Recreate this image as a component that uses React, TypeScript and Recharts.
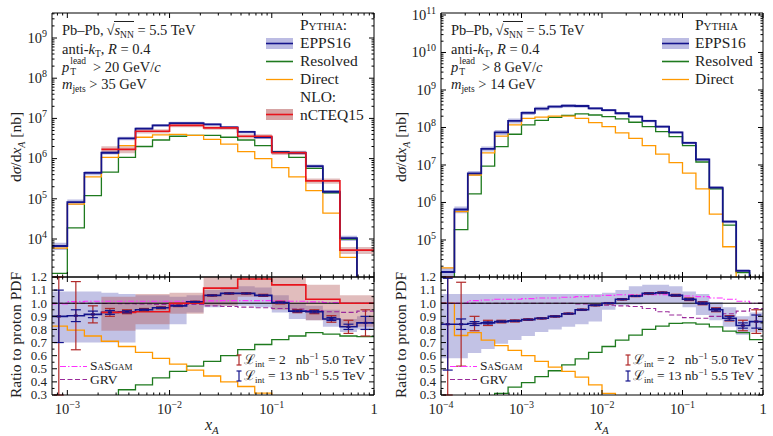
import React from 'react';
import { ComposedChart, Line, Area, Scatter, ErrorBar, XAxis, YAxis, ReferenceLine } from 'recharts';

const FONT = '"Liberation Serif", "DejaVu Serif", serif';

// bin edges (6 per decade for PYTHIA, 3 per decade for NLO)
const leftEdges = [6.81e-4, 1e-3, 1.468e-3, 2.154e-3, 3.162e-3, 4.642e-3, 6.813e-3, 1e-2, 1.468e-2, 2.154e-2, 3.162e-2, 4.642e-2, 6.813e-2, 0.1, 0.1468, 0.2154, 0.3162, 0.4642, 0.6813, 1];
const rightEdges = [1e-4, 1.468e-4, 2.154e-4, 3.162e-4, 4.642e-4, 6.813e-4, 1e-3, 1.468e-3, 2.154e-3, 3.162e-3, 4.642e-3, 6.813e-3, 1e-2, 1.468e-2, 2.154e-2, 3.162e-2, 4.642e-2, 6.813e-2, 0.1, 0.1468, 0.2154, 0.3162, 0.4642, 0.6813, 1];
const nloEdges = [2.154e-3, 4.642e-3, 1e-2, 2.154e-2, 4.642e-2, 0.1, 0.2154, 0.4642, 1];

// left panel, cross sections [nb]
const leftEpps = [6.7e3, 8.3e4, 4.4e5, 1.4e6, 3.2e6, 5.6e6, 6.7e6, 7.6e6, 7.6e6, 7.1e6, 6.0e6, 4.6e6, 3.4e6, 1.45e6, 1.4e6, 6.5e5, 1.5e5, 1.05e4, 0];
const leftEppsUnc = [0.2, 0.15, 0.12, 0.1, 0.1, 0.08, 0.08, 0.08, 0.08, 0.08, 0.08, 0.08, 0.08, 0.08, 0.08, 0.1, 0.1, 0.15, 0];
const leftResolved = [1.4e3, 1.9e4, 1.2e5, 4.6e5, 1.07e6, 2.0e6, 2.9e6, 3.6e6, 3.8e6, 3.8e6, 3.4e6, 2.9e6, 2.1e6, 1.5e6, 1.07e6, 5.7e5, 1.4e5, 1.0e4, 0];
const leftDirect = [5.9e3, 7.4e4, 3.5e5, 1.07e6, 2.1e6, 3.4e6, 3.9e6, 4.0e6, 3.8e6, 3.0e6, 2.3e6, 1.5e6, 1.0e6, 6.0e5, 3.5e5, 1.6e5, 4.4e4, 3.5e3, 0];
const leftNlo = [1.7e6, 4.8e6, 6.7e6, 5.8e6, 3.6e6, 1.4e6, 2.8e5, 5.3e3];
const leftNloUnc = [0.2, 0.12, 0.1, 0.1, 0.12, 0.12, 0.15, 0.2];

// left panel, ratios
const leftRatioEpps = [0.9, 0.905, 0.915, 0.93, 0.935, 0.95, 0.965, 0.98, 1.01, 1.06, 1.075, 1.075, 1.06, 1.005, 0.94, 0.935, 0.88, 0.82, 0.85];
const leftRatioEppsLo = [0.7, 0.7, 0.7, 0.7, 0.7, 0.8, 0.8, 0.84, 0.93, 0.97, 0.98, 0.98, 0.97, 0.93, 0.88, 0.87, 0.82, 0.78, 0.8];
const leftRatioEppsHi = [1.09, 1.09, 1.09, 1.08, 1.07, 1.06, 1.06, 1.05, 1.06, 1.1, 1.12, 1.13, 1.12, 1.06, 1.0, 0.98, 0.95, 0.88, 0.9];
const leftRatioNlo = [0.93, 0.935, 1.0, 1.115, 1.185, 1.14, 1.03, 1.0];
const leftRatioNloLo = [0.79, 0.84, 0.92, 0.98, 1.05, 0.95, 0.87, 0.82];
const leftRatioNloHi = [1.05, 1.07, 1.08, 1.22, 1.25, 1.2, 1.14, 1.06];
const leftRatioResolved = [null, null, null, 0.25, 0.34, 0.377, 0.43, 0.48, 0.52, 0.556, 0.6, 0.646, 0.685, 0.723, 0.75, 0.775, 0.765, 0.75, 0.745];
const leftRatioDirect = [0.825, 0.795, 0.75, 0.71, 0.67, 0.625, 0.58, 0.535, 0.49, 0.445, 0.4, 0.365, 0.315, 0.25, null, null, null, null, null];
const leftSasgam = [0.995, 1.012, 1.015, 1.015, 1.015, 1.015, 1.015, 1.015, 1.015, 1.018, 1.02, 1.02, 1.02, 1.018, 1.015, 1.01, 1.005, 1.0, 1.0];
const leftGrv = [1.0, 1.0, 1.0, 0.998, 0.996, 0.994, 0.99, 0.99, 0.99, 0.98, 0.975, 0.97, 0.965, 0.96, 0.955, 0.945, 0.935, 0.93, 0.94];
const leftErr50 = [1.0, 0.26, 0.065, 0.03, 0.015, 0.01, 0.008, 0.006, 0.006, 0.006, 0.006, 0.006, 0.008, 0.01, 0.012, 0.015, 0.025, 0.05, 0.1];
const leftErr55 = [0.2, 0.045, 0.025, 0.015, 0.008, 0.005, 0.004, 0.003, 0.003, 0.003, 0.003, 0.003, 0.004, 0.005, 0.006, 0.008, 0.012, 0.02, 0.05];

// right panel, cross sections [nb]
const rightEpps = [1.4e4, 6.5e5, 6.0e6, 2.7e7, 7.4e7, 1.5e8, 2.45e8, 3.2e8, 3.6e8, 3.8e8, 3.74e8, 3.25e8, 2.9e8, 2.4e8, 1.96e8, 1.5e8, 1.05e8, 7.4e7, 3.9e7, 1.4e7, 2.5e6, 3.1e5, 1.5e4, 0];
const rightEppsUnc = [0.3, 0.2, 0.15, 0.15, 0.15, 0.15, 0.12, 0.12, 0.1, 0.1, 0.1, 0.08, 0.08, 0.08, 0.08, 0.08, 0.08, 0.08, 0.08, 0.08, 0.1, 0.1, 0.12, 0];
const rightResolved = [8e3, 1.9e5, 1.7e6, 9.3e6, 3.1e7, 6.6e7, 1.17e8, 1.55e8, 1.85e8, 2.1e8, 2.3e8, 2.15e8, 1.96e8, 1.7e8, 1.38e8, 1.05e8, 7.8e7, 5.7e7, 3.3e7, 1.2e7, 2.3e6, 2.5e5, 1.35e4, 0];
const rightDirect = [1.8e4, 5.7e5, 5.4e6, 2.1e7, 5.9e7, 1.17e8, 1.76e8, 1.9e8, 2.0e8, 2.0e8, 1.76e8, 1.35e8, 1.05e8, 7.2e7, 5.1e7, 3.3e7, 1.95e7, 1.15e7, 6.1e6, 2.3e6, 4.9e5, 6.6e4, 0, 0];

// right panel, ratios
const rightRatioEpps = [0.84, 0.84, 0.845, 0.85, 0.86, 0.865, 0.875, 0.885, 0.9, 0.92, 0.95, 0.985, 1.0, 1.03, 1.055, 1.075, 1.08, 1.06, 1.03, 1.0, 0.95, 0.885, 0.83, 0.86];
const rightRatioEppsLo = [0.58, 0.58, 0.62, 0.65, 0.69, 0.72, 0.75, 0.78, 0.8, 0.82, 0.84, 0.86, 0.95, 0.985, 0.99, 1.0, 1.0, 1.0, 0.97, 0.91, 0.87, 0.82, 0.76, 0.78];
const rightRatioEppsHi = [1.07, 1.07, 1.07, 1.07, 1.07, 1.07, 1.07, 1.07, 1.07, 1.07, 1.07, 1.07, 1.08, 1.1, 1.13, 1.14, 1.14, 1.13, 1.09, 1.07, 1.01, 0.97, 0.9, 0.93];
const rightRatioResolved = [null, null, null, 0.25, 0.313, 0.36, 0.395, 0.44, 0.485, 0.53, 0.575, 0.625, 0.67, 0.718, 0.757, 0.8, 0.826, 0.847, 0.85, 0.84, 0.82, 0.787, 0.775, 0.723];
const rightRatioDirect = [1.0, 0.754, 0.775, 0.718, 0.677, 0.64, 0.6, 0.556, 0.513, 0.48, 0.436, 0.377, 0.313, 0.25, null, null, null, null, null, null, null, null, null, null];
const rightSasgam = [1.0, 1.0, 1.02, 1.025, 1.03, 1.03, 1.035, 1.04, 1.04, 1.045, 1.05, 1.055, 1.06, 1.065, 1.065, 1.065, 1.065, 1.06, 1.055, 1.05, 1.04, 1.03, 1.015, 1.0];
const rightGrv = [1.0, 1.0, 1.0, 1.0, 1.0, 1.0, 1.0, 1.0, 1.0, 1.0, 0.995, 0.99, 0.985, 0.98, 0.975, 0.96, 0.935, 0.91, 0.89, 0.885, 0.9, 0.92, 0.94, 0.96];
const rightErr50 = [1.0, 0.32, 0.055, 0.02, 0.01, 0.008, 0.006, 0.005, 0.005, 0.005, 0.005, 0.005, 0.005, 0.005, 0.005, 0.006, 0.006, 0.008, 0.01, 0.012, 0.015, 0.02, 0.04, 0.09];
const rightErr55 = [0.35, 0.04, 0.015, 0.008, 0.005, 0.004, 0.003, 0.003, 0.003, 0.003, 0.003, 0.003, 0.003, 0.003, 0.003, 0.003, 0.004, 0.005, 0.006, 0.008, 0.01, 0.015, 0.02, 0.05];

// axes
const leftXDomain: [number, number] = [7.08e-4, 1];
const rightXDomain: [number, number] = [1e-4, 1];
const leftYDomain: [number, number] = [1135, 4.19e9];
const rightYDomain: [number, number] = [1.03e4, 1.13e11];
const ratioDomain: [number, number] = [0.3, 1.2];
const ratioTicks = [0.3, 0.35, 0.4, 0.45, 0.5, 0.55, 0.6, 0.65, 0.7, 0.75, 0.8, 0.85, 0.9, 0.95, 1.0, 1.05, 1.1, 1.15, 1.2];

const C = {
  epps: '#14148c',
  eppsBand: '#8585cc',
  resolved: '#1e7a1e',
  direct: '#ff9900',
  nlo: '#e8141c',
  nloBand: '#b55a5a',
  sasgam: '#ff30ff',
  grv: '#9a2a9a',
  err50: '#b02828',
};

const LOG_FLOOR = 1;

function logTicks(lo: number, hi: number) {
  const out: number[] = [];
  for (let e = Math.floor(Math.log10(lo)); e <= Math.ceil(Math.log10(hi)); e++) {
    for (let m = 1; m < 10; m++) {
      const v = m * Math.pow(10, e);
      if (v >= lo && v <= hi) out.push(v);
    }
  }
  return out;
}

function stepPts(edges: number[], vals: (number | null)[], floor?: number) {
  const fix = (v: number | null) => (v == null ? null : floor != null ? Math.max(v, floor) : v);
  const pts = vals.map((v, i) => ({ x: edges[i], y: fix(v) }));
  pts.push({ x: edges[edges.length - 1], y: fix(vals[vals.length - 1]) });
  return pts;
}

function rangePts(edges: number[], lo: number[], hi: number[]) {
  const pts = lo.map((l, i) => ({ x: edges[i], y: [l, hi[i]] }));
  pts.push({ x: edges[edges.length - 1], y: [lo[lo.length - 1], hi[hi.length - 1]] });
  return pts;
}

function relBand(edges: number[], vals: number[], unc: number[]) {
  const lo = vals.map((v, i) => Math.max(v * (1 - unc[i]), LOG_FLOOR));
  const hi = vals.map((v, i) => Math.max(v * (1 + unc[i]), LOG_FLOOR));
  return rangePts(edges, lo, hi);
}

// error bars are cut at the panel edges (asymmetric [down, up])
function centerPts(edges: number[], vals: number[], errs: number[]) {
  return vals.map((v, i) => ({
    x: Math.sqrt(edges[i] * edges[i + 1]),
    y: v,
    e: [Math.min(errs[i], v - ratioDomain[0]), Math.min(errs[i], ratioDomain[1] - v)],
  }));
}

function powLabel(v: number) {
  const e = Math.round(Math.log10(v));
  if (e === 0) return '1';
  return (
    <>
      10
      <tspan dy={-6} fontSize={10}>
        {e < 0 ? '\u2212' + -e : String(e)}
      </tspan>
    </>
  );
}

function makeTick(side: 'left' | 'right' | 'top' | 'bottom', kind: 'log' | 'lin', labels: boolean) {
  return (props: any) => {
    const { x, y, payload } = props;
    const v = payload.value as number;
    let major: boolean;
    if (kind === 'log') {
      const l = Math.log10(v);
      major = Math.abs(l - Math.round(l)) < 1e-6;
    } else {
      major = Math.abs(v * 10 - Math.round(v * 10)) < 1e-6;
    }
    const len = major ? 5 : 2.5;
    let line;
    if (side === 'left') line = <line x1={x} x2={x + len} y1={y} y2={y} stroke="#000" />;
    else if (side === 'right') line = <line x1={x} x2={x - len} y1={y} y2={y} stroke="#000" />;
    else if (side === 'bottom') line = <line x1={x} x2={x} y1={y} y2={y - len} stroke="#000" />;
    else line = <line x1={x} x2={x} y1={y} y2={y + len} stroke="#000" />;
    let label = null;
    if (labels && major) {
      if (side === 'left') {
        const fs = kind === 'log' ? 14.5 : 13;
        label = (
          <text x={x - 5} y={y + fs * 0.33} textAnchor="end" fontSize={fs} fontFamily={FONT} fill="#222">
            {kind === 'log' ? powLabel(v) : v.toFixed(1)}
          </text>
        );
      } else if (side === 'bottom') {
        label = (
          <text x={x} y={y + 19} textAnchor="middle" fontSize={14.5} fontFamily={FONT} fill="#222">
            {powLabel(v)}
          </text>
        );
      }
    }
    return (
      <g>
        {line}
        {label}
      </g>
    );
  };
}

type ChartProps = {
  left: number;
  top: number;
  width: number;
  height: number;
  yAxisW: number;
  rightMargin: number;
  topMargin: number;
  bottomMargin: number;
  bottomH: number;
  xDomain: [number, number];
  yDomain: [number, number];
  yTicks: number[];
  yLog: boolean;
  xLabels: boolean;
  children: React.ReactNode;
};

function Chart(p: ChartProps) {
  const xTicks = logTicks(p.xDomain[0], p.xDomain[1]);
  const yKind = p.yLog ? 'log' : 'lin';
  const common = {
    type: 'number' as const,
    allowDataOverflow: true,
    interval: 0 as const,
    tickSize: 0,
    tickMargin: 0,
    tickLine: false,
    axisLine: { stroke: '#000', strokeWidth: 1 },
  };
  return (
    <div style={{ position: 'absolute', left: p.left, top: p.top, width: p.width, height: p.height }}>
      <ComposedChart
        width={p.width}
        height={p.height}
        margin={{ top: p.topMargin, right: p.rightMargin, bottom: p.bottomMargin, left: 0 }}
      >
        <XAxis {...common} xAxisId="b" orientation="bottom" dataKey="x" scale="log" domain={p.xDomain} ticks={xTicks} height={p.bottomH} tick={makeTick('bottom', 'log', p.xLabels)} />
        <XAxis {...common} xAxisId="t" orientation="top" dataKey="x" scale="log" domain={p.xDomain} ticks={xTicks} height={1} tick={makeTick('top', 'log', false)} />
        <YAxis {...common} yAxisId="l" orientation="left" scale={p.yLog ? 'log' : 'linear'} domain={p.yDomain} ticks={p.yTicks} width={p.yAxisW} tick={makeTick('left', yKind, true)} />
        <YAxis {...common} yAxisId="r" orientation="right" scale={p.yLog ? 'log' : 'linear'} domain={p.yDomain} ticks={p.yTicks} width={1} tick={makeTick('right', yKind, false)} />
        {p.children}
      </ComposedChart>
    </div>
  );
}

const ax = { xAxisId: 'b', yAxisId: 'l', isAnimationActive: false } as const;

function stepLine(data: any[], color: string, width: number, dash?: string) {
  return (
    <Line {...ax} data={data} dataKey="y" type="stepAfter" stroke={color} strokeWidth={width} strokeDasharray={dash} dot={false} activeDot={false} connectNulls={false} />
  );
}

function band(data: any[], color: string, opacity: number) {
  return <Area {...ax} data={data} dataKey="y" type="stepAfter" stroke="none" fill={color} fillOpacity={opacity} />;
}

function errPoints(data: any[], color: string, width: number) {
  return (
    <Scatter
      {...ax}
      data={data}
      dataKey="y"
      shape={(s: any) => <rect x={s.cx - 2} y={s.cy - 1} width={4} height={2} fill={color} />}
    >
      <ErrorBar dataKey="e" direction="y" width={5} stroke={color} strokeWidth={width} />
    </Scatter>
  );
}

const abs = (left: number, top: number, extra: React.CSSProperties = {}): React.CSSProperties => ({
  position: 'absolute',
  left,
  top,
  whiteSpace: 'nowrap',
  fontFamily: FONT,
  color: '#222',
  ...extra,
});

// small lowered / raised text that does not widen the line box
const Sub = ({ children, size = 10, shift = 4 }: { children: React.ReactNode; size?: number; shift?: number }) => (
  <span style={{ fontSize: size, position: 'relative', top: shift, lineHeight: 0 }}>{children}</span>
);

function Swatch({ color, bandColor, dash, width = 1.6 }: { color: string; bandColor?: string; dash?: string; width?: number }) {
  return (
    <svg width={27} height={11} style={{ display: 'block' }}>
      {bandColor && <rect x={0} y={0} width={27} height={11} fill={bandColor} fillOpacity={0.55} />}
      <line x1={0} x2={27} y1={5.5} y2={5.5} stroke={color} strokeWidth={width} strokeDasharray={dash} />
    </svg>
  );
}

function ErrIcon({ color }: { color: string }) {
  return (
    <svg width={6} height={12} style={{ display: 'block' }}>
      <line x1={3} x2={3} y1={1} y2={11} stroke={color} strokeWidth={1.2} />
      <line x1={0.5} x2={5.5} y1={1} y2={1} stroke={color} strokeWidth={1.2} />
      <line x1={0.5} x2={5.5} y1={11} y2={11} stroke={color} strokeWidth={1.2} />
    </svg>
  );
}

function Annotation({ x, pt, mj }: { x: number; pt: string; mj: string }) {
  const line = { fontSize: 14.5, lineHeight: '16px' };
  return (
    <>
      <div style={abs(x, 22, line)}>
        Pb–Pb,&thinsp;√<span style={{ borderTop: '1px solid #222' }}><i>s</i><Sub size={9.5} shift={3}>NN</Sub></span> = 5.5 TeV
      </div>
      <div style={abs(x, 40.5, line)}>
        anti-<i>k</i><Sub size={9.5} shift={3}>T</Sub>, <i>R</i> = 0.4
      </div>
      <div style={abs(x, 59, line)}>
        <i>p</i>
        <span style={{ position: 'relative', display: 'inline-block', width: 20, height: 10 }}>
          <span style={{ position: 'absolute', left: 1, top: -6, fontSize: 9.5, lineHeight: '10px' }}>lead</span>
          <span style={{ position: 'absolute', left: 1, top: 5, fontSize: 9.5, lineHeight: '10px' }}>T</span>
        </span>
        &nbsp;&gt; {pt} GeV/<i>c</i>
      </div>
      <div style={abs(x, 76, line)}>
        <i>m</i><Sub size={9.5} shift={3}>jets</Sub> &gt; {mj} GeV
      </div>
    </>
  );
}

function MainLegend({ swX, textX, colon, nlo }: { swX: number; textX: number; colon: boolean; nlo: boolean }) {
  const fs = 15.5;
  const row = (cy: number) => ({ fontSize: fs, lineHeight: '18px', top: cy - 9 });
  return (
    <>
      <div style={{ ...abs(textX, 16), ...row(25), fontVariant: 'small-caps' }}>Pythia{colon ? ':' : ''}</div>
      <div style={abs(swX, 38)}><Swatch color={C.epps} bandColor={C.eppsBand} /></div>
      <div style={{ ...abs(textX, 0), ...row(43) }}>EPPS16</div>
      <div style={abs(swX, 56)}><Swatch color={C.resolved} /></div>
      <div style={{ ...abs(textX, 0), ...row(61) }}>Resolved</div>
      <div style={abs(swX, 74)}><Swatch color={C.direct} width={1.3} /></div>
      <div style={{ ...abs(textX, 0), ...row(79) }}>Direct</div>
      {nlo && (
        <>
          <div style={{ ...abs(textX, 0), ...row(97) }}>NLO:</div>
          <div style={abs(swX, 109)}><Swatch color={C.nlo} bandColor={C.nloBand} /></div>
          <div style={{ ...abs(textX, 0), ...row(115) }}>nCTEQ15</div>
        </>
      )}
    </>
  );
}

function RatioLegend({ swX, errX }: { swX: number; errX: number }) {
  const fs = 13.5;
  return (
    <>
      <div style={abs(swX, 361)}><Swatch color={C.sasgam} dash="6 2 1.5 2" width={1.2} /></div>
      <div style={abs(swX + 30, 358, { fontSize: fs, lineHeight: '15px', fontVariant: 'small-caps' })}>SaSgam</div>
      <div style={abs(swX, 374)}><Swatch color={C.grv} dash="5 2.5" width={1.2} /></div>
      <div style={abs(swX + 30, 372, { fontSize: fs, lineHeight: '15px' })}>GRV</div>

      <div style={abs(errX, 354)}><ErrIcon color={C.err50} /></div>
      <div style={abs(errX + 8, 352, { fontSize: fs, lineHeight: '15px' })}>
        ℒ<Sub size={9} shift={3}>int</Sub> = 2&nbsp;&nbsp; nb<Sub size={9} shift={-5}>−1</Sub> 5.0 TeV
      </div>
      <div style={abs(errX, 370)}><ErrIcon color={C.epps} /></div>
      <div style={abs(errX + 8, 368, { fontSize: fs, lineHeight: '15px' })}>
        ℒ<Sub size={9} shift={3}>int</Sub> = 13 nb<Sub size={9} shift={-5}>−1</Sub> 5.5 TeV
      </div>
    </>
  );
}

function YTitle({ cx, cy, children }: { cx: number; cy: number; children: React.ReactNode }) {
  return (
    <div
      style={abs(cx, cy, {
        fontSize: 15.5,
        transform: 'translate(-50%, -50%) rotate(-90deg)',
        lineHeight: '18px',
      })}
    >
      {children}
    </div>
  );
}

const dsigma = (
  <>
    d<i>σ</i>/d<i>x</i><Sub><i>A</i></Sub> [nb]
  </>
);

const xTitle = (
  <>
    <i>x</i><Sub size={11}><i>A</i></Sub>
  </>
);

export default function App() {
  const leftMainTicks = logTicks(leftYDomain[0], leftYDomain[1]);
  const rightMainTicks = logTicks(rightYDomain[0], rightYDomain[1]);

  return (
    <div style={{ position: 'absolute', left: 0, top: 0, width: 773, height: 436, background: '#fff', overflow: 'hidden' }}>
      {/* left main */}
      <Chart left={0} top={0} width={380} height={280} yAxisW={52} rightMargin={5} topMargin={12} bottomMargin={2} bottomH={1}
        xDomain={leftXDomain} yDomain={leftYDomain} yTicks={leftMainTicks} yLog xLabels={false}>
        {band(relBand(leftEdges, leftEpps, leftEppsUnc), C.eppsBand, 0.55)}
        {band(relBand(nloEdges, leftNlo, leftNloUnc), C.nloBand, 0.4)}
        {stepLine(stepPts(leftEdges, leftResolved, LOG_FLOOR), C.resolved, 1.3)}
        {stepLine(stepPts(leftEdges, leftDirect, LOG_FLOOR), C.direct, 1.3)}
        {stepLine(stepPts(leftEdges, leftEpps, LOG_FLOOR), C.epps, 1.8)}
        {stepLine(stepPts(nloEdges, leftNlo, LOG_FLOOR), C.nlo, 1.6)}
      </Chart>

      {/* left ratio */}
      <Chart left={0} top={266} width={380} height={170} yAxisW={52} rightMargin={5} topMargin={10} bottomMargin={0} bottomH={41}
        xDomain={leftXDomain} yDomain={ratioDomain} yTicks={ratioTicks} yLog={false} xLabels>
        {band(rangePts(leftEdges, leftRatioEppsLo, leftRatioEppsHi), C.eppsBand, 0.5)}
        {band(rangePts(nloEdges, leftRatioNloLo, leftRatioNloHi), C.nloBand, 0.4)}
        {stepLine(stepPts(leftEdges, leftRatioResolved), C.resolved, 1.3)}
        {stepLine(stepPts(leftEdges, leftRatioDirect), C.direct, 1.3)}
        {stepLine(stepPts(leftEdges, leftGrv), C.grv, 1.1, '5 2.5')}
        {stepLine(stepPts(leftEdges, leftSasgam), C.sasgam, 1.1, '6 2 1.5 2')}
        <ReferenceLine xAxisId="b" yAxisId="l" y={1} stroke="#000" strokeWidth={1} />
        {stepLine(stepPts(leftEdges, leftRatioEpps), C.epps, 1.6)}
        {stepLine(stepPts(nloEdges, leftRatioNlo), C.nlo, 1.6)}
        {errPoints(centerPts(leftEdges, leftRatioEpps, leftErr50), C.err50, 1.2)}
        {errPoints(centerPts(leftEdges, leftRatioEpps, leftErr55), C.epps, 1.2)}
      </Chart>

      {/* right main */}
      <Chart left={385} top={0} width={388} height={280} yAxisW={56} rightMargin={9} topMargin={12} bottomMargin={2} bottomH={1}
        xDomain={rightXDomain} yDomain={rightYDomain} yTicks={rightMainTicks} yLog xLabels={false}>
        {band(relBand(rightEdges, rightEpps, rightEppsUnc), C.eppsBand, 0.55)}
        {stepLine(stepPts(rightEdges, rightResolved, LOG_FLOOR), C.resolved, 1.3)}
        {stepLine(stepPts(rightEdges, rightDirect, LOG_FLOOR), C.direct, 1.3)}
        {stepLine(stepPts(rightEdges, rightEpps, LOG_FLOOR), C.epps, 1.8)}
      </Chart>

      {/* right ratio */}
      <Chart left={385} top={266} width={388} height={170} yAxisW={56} rightMargin={9} topMargin={10} bottomMargin={0} bottomH={41}
        xDomain={rightXDomain} yDomain={ratioDomain} yTicks={ratioTicks} yLog={false} xLabels>
        {band(rangePts(rightEdges, rightRatioEppsLo, rightRatioEppsHi), C.eppsBand, 0.5)}
        {stepLine(stepPts(rightEdges, rightRatioResolved), C.resolved, 1.3)}
        {stepLine(stepPts(rightEdges, rightRatioDirect), C.direct, 1.3)}
        {stepLine(stepPts(rightEdges, rightGrv), C.grv, 1.1, '5 2.5')}
        {stepLine(stepPts(rightEdges, rightSasgam), C.sasgam, 1.1, '6 2 1.5 2')}
        <ReferenceLine xAxisId="b" yAxisId="l" y={1} stroke="#000" strokeWidth={1} />
        {stepLine(stepPts(rightEdges, rightRatioEpps), C.epps, 1.6)}
        {errPoints(centerPts(rightEdges, rightRatioEpps, rightErr50), C.err50, 1.2)}
        {errPoints(centerPts(rightEdges, rightRatioEpps, rightErr55), C.epps, 1.2)}
      </Chart>

      <Annotation x={62} pt="20" mj="35" />
      <Annotation x={451} pt="8" mj="14" />
      <MainLegend swX={266} textX={300} colon nlo />
      <MainLegend swX={662} textX={695} colon={false} nlo={false} />
      <RatioLegend swX={60} errX={236} />
      <RatioLegend swX={450} errX={625} />

      <YTitle cx={16} cy={147}>{dsigma}</YTitle>
      <YTitle cx={16} cy={335}>Ratio to proton PDF</YTitle>
      <YTitle cx={401} cy={147}>{dsigma}</YTitle>
      <YTitle cx={401} cy={335}>Ratio to proton PDF</YTitle>

      <div style={abs(205, 416, { fontSize: 16, lineHeight: '18px' })}>{xTitle}</div>
      <div style={abs(595, 416, { fontSize: 16, lineHeight: '18px' })}>{xTitle}</div>
    </div>
  );
}
